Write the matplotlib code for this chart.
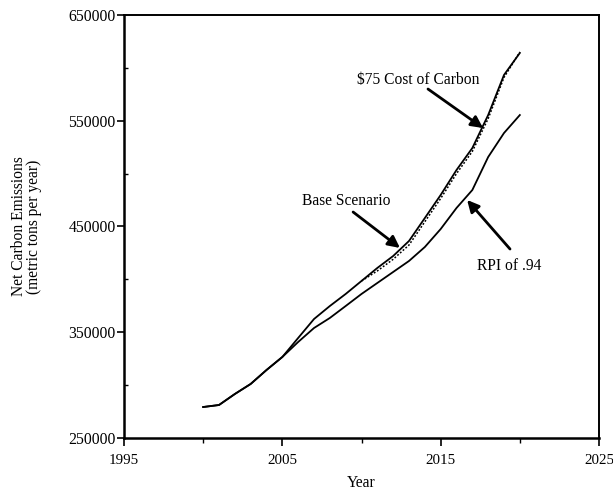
import matplotlib
matplotlib.use("Agg")
import matplotlib.pyplot as plt
from matplotlib.ticker import MultipleLocator

years_common = [2000, 2001, 2002, 2003, 2004, 2005]
common_vals = [279300, 281200, 291600, 301100, 314300, 326600]

years_late = [2006, 2007, 2008, 2009, 2010, 2011, 2012, 2013, 2014, 2015,
              2016, 2017, 2018, 2019, 2020]
base_late = [344600, 362500, 374800, 386200, 398500, 410800, 422100, 436300,
             458000, 479800, 503400, 524200, 555400, 593300, 614100]
rpi_late = [340800, 354000, 363500, 374800, 386200, 396600, 407000, 417400,
            430600, 447600, 467500, 484500, 515700, 538400, 555400]

years_carbon = [2010, 2011, 2012, 2013, 2014, 2015, 2016, 2017, 2018, 2019, 2020]
carbon_vals = [398500, 408000, 419000, 432500, 454500, 476500, 500000, 521000,
               552000, 591000, 615000]

years = years_common + years_late
base = common_vals + base_late
rpi = common_vals + rpi_late

plt.rcParams['font.family'] = ['Liberation Serif', 'DejaVu Serif']

fig = plt.figure(figsize=(6.13, 4.91), dpi=100)
ax = fig.add_axes([124/613, 1-438/491, (599-124)/613, (438-15)/491])

ax.plot(years, base, color='black', lw=1.3)
ax.plot(years, rpi, color='black', lw=1.3)
ax.plot(years_carbon, carbon_vals, color='black', lw=1.1, linestyle=(0, (1.2, 1.2)))

ax.set_xlim(1995, 2025)
ax.set_ylim(250000, 650000)
ax.set_xticks([1995, 2005, 2015, 2025])
ax.set_yticks([250000, 350000, 450000, 550000, 650000])
ax.xaxis.set_minor_locator(MultipleLocator(5))
ax.yaxis.set_minor_locator(MultipleLocator(50000))
ax.tick_params(axis='x', which='major', direction='out', length=6, width=1.2,
               labelsize=10.8, pad=5.5, colors='black')
ax.tick_params(axis='x', which='minor', direction='out', length=3.5, width=1.0)
ax.tick_params(axis='y', which='major', direction='out', length=5, width=1.2,
               labelsize=11.3, pad=1)
ax.tick_params(axis='y', which='minor', direction='in', length=3, width=1.0)

for side in ['left', 'bottom']:
    ax.spines[side].set_linewidth(1.8)
for side in ['top', 'right']:
    ax.spines[side].set_linewidth(1.4)

ax.set_xlabel('Year', fontsize=11.2, labelpad=6)
ax.set_ylabel('Net Carbon Emissions\n(metric tons per year)', fontsize=11.2,
              labelpad=19, linespacing=0.95)

arrow_kw = dict(arrowstyle='-|>,head_length=0.7,head_width=0.35', color='black',
                lw=2.0, shrinkA=0, shrinkB=0)

ax.text(2013.57, 588500, '$75 Cost of Carbon', fontsize=11.2, ha='center', va='center')
ax.annotate('', xy=(2017.68, 543100), xytext=(2014.2, 580000), arrowprops=arrow_kw)

ax.text(2009.02, 474100, 'Base Scenario', fontsize=11.2, ha='center', va='center')
ax.annotate('', xy=(2012.43, 429700), xytext=(2009.47, 463700), arrowprops=arrow_kw)

ax.text(2019.32, 412600, 'RPI of .94', fontsize=11.2, ha='center', va='center')
ax.annotate('', xy=(2016.67, 475100), xytext=(2019.38, 428700), arrowprops=arrow_kw)

fig.savefig('out.png', dpi=100)
